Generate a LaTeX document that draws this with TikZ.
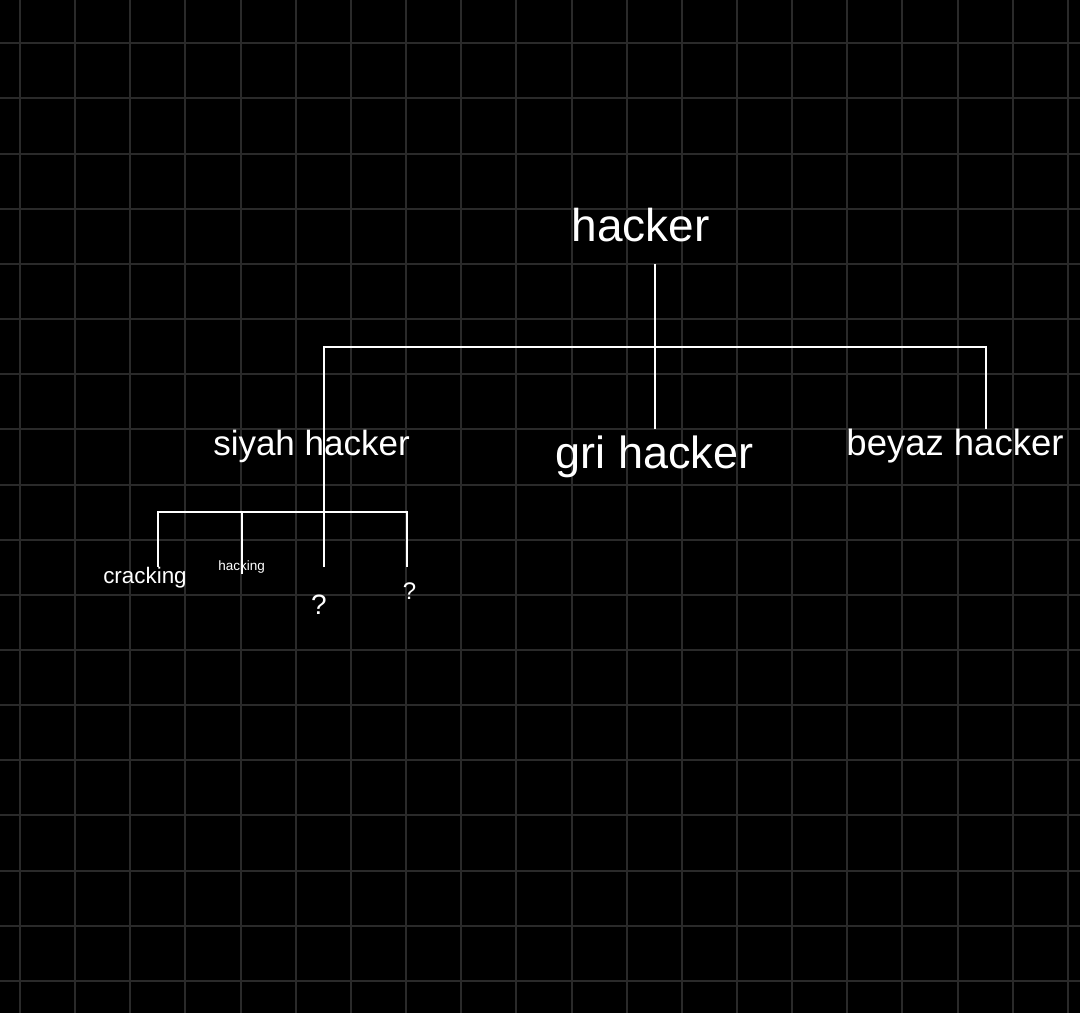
\documentclass[tikz,border=0pt]{standalone}
\usepackage{fontspec}
\setmainfont{Liberation Sans}
\definecolor{gridgray}{RGB}{42,42,42}
\begin{document}
\begin{tikzpicture}[x=1pt, y=-1pt,
    word/.style={text=white, anchor=base, inner sep=0pt},
    branch/.style={draw=white, line width=2pt}]
    % Background and grid
    \useasboundingbox (0,0) rectangle (1080,1013);
    \fill[black] (0,0) rectangle (1080,1013);
    \foreach \i in {0,...,19} {
        \draw[gridgray, line width=2pt] (20+55.15*\i,0) -- (20+55.15*\i,1013);
    }
    \foreach \j in {0,...,17} {
        \draw[gridgray, line width=2pt] (0,43.3+55.15*\j) -- (1080,43.3+55.15*\j);
    }

    % Nodes
    \node (hacker) [word, font=\fontsize{46}{50}\selectfont] at (640.5,241.7) {hacker};
    \node (siyah) [word, font=\fontsize{35}{40}\selectfont] at (311.5,455) {siyah hacker};
    \node (gri) [word, font=\fontsize{45}{50}\selectfont] at (654.5,468) {gri hacker};
    \node (beyaz) [word, font=\fontsize{36.5}{40}\selectfont] at (955,455.5) {beyaz hacker};
    \node (cracking) [word, font=\fontsize{22.4}{26}\selectfont] at (145,583.3) {cracking};
    \node (hacking) [word, font=\fontsize{13.5}{16}\selectfont] at (241.7,570.7) {hacking};
    \node (q1) [word, font=\fontsize{28}{32}\selectfont] at (319,614) {?};
    \node (q2) [word, font=\fontsize{24}{28}\selectfont] at (409.5,599) {?};

    % Connector ends
    \coordinate (hacker-out) at (654.5,264);
    \coordinate (split) at (654.5,346.5);
    \coordinate (gri-in) at (654.5,429);
    \coordinate (beyaz-in) at (985.7,429);
    \coordinate (siyah-out) at (323.7,567);
    \coordinate (fork) at (323.7,512.3);
    \coordinate (cracking-in) at (158.3,566.7);
    \coordinate (hacking-in) at (241.7,574);
    \coordinate (q2-in) at (406.7,567);

    % Edges
    \draw[branch] (hacker-out) -- (gri-in);
    \draw[branch] (siyah-out) |- (split) -| (beyaz-in);
    \draw[branch] (cracking-in) |- (fork) -| (q2-in);
    \draw[branch] (hacking-in) -- (hacking-in |- fork);
\end{tikzpicture}
\end{document}
